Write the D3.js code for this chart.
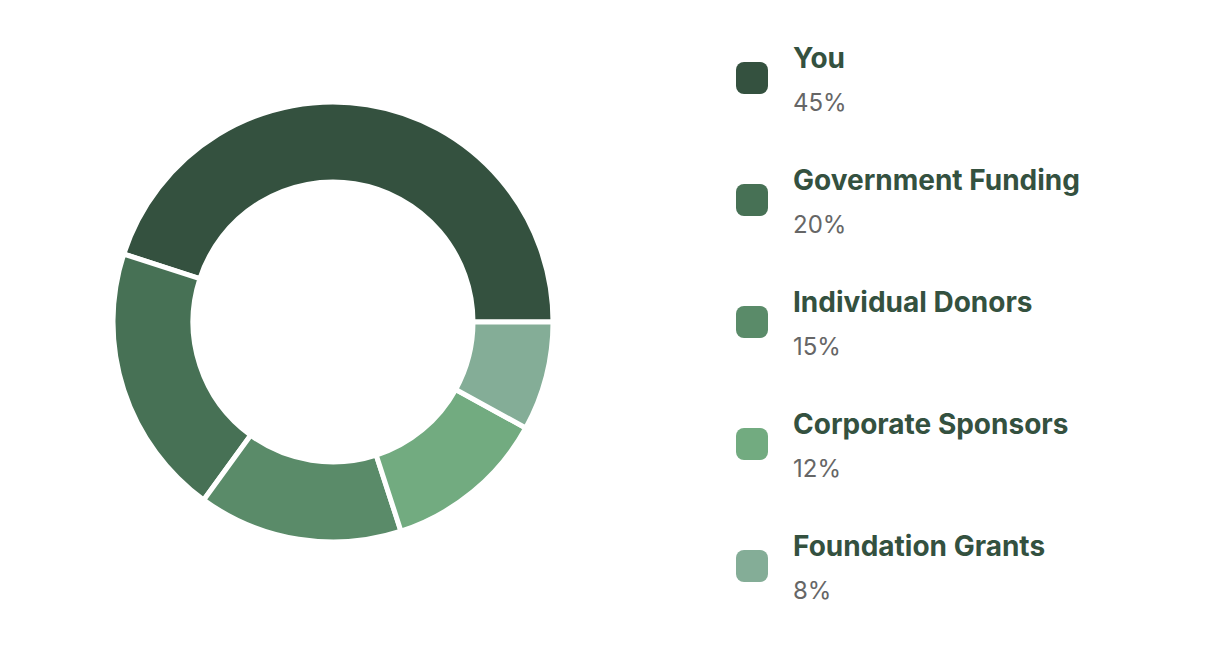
<!DOCTYPE html>
<html><head><meta charset="utf-8">
<script src="https://cdn.jsdelivr.net/npm/d3@7"></script>
<style>body{margin:0;background:#fff;}</style>
</head><body>
<svg id="c" width="1210" height="658"></svg>
<script>
const categories = ["You","Government Funding","Individual Donors","Corporate Sponsors","Foundation Grants"];
const values = [45,20,15,12,8];
const colors = ["#34513f","#477155","#5a8b69","#72ab80","#84ad97"];

const svg = d3.select("#c");
const g = svg.append("g").attr("transform","translate(333,322)");
const data = categories.map((c,i)=>({c,v:values[i],col:colors[i]}));
const pie = d3.pie().sort(null).value(d=>d.v)
  .startAngle(Math.PI/2).endAngle(Math.PI/2 - 2*Math.PI);
const arc = d3.arc().innerRadius(140).outerRadius(220);
g.selectAll("path").data(pie(data)).join("path")
  .attr("d",arc).attr("fill",d=>d.data.col)
  .attr("stroke","#fff").attr("stroke-width",5).attr("stroke-linejoin","miter");

const y = d3.scalePoint().domain(categories).range([78,566]);
const lg = svg.append("g");
const items = lg.selectAll("g").data(data).join("g")
  .attr("transform",d=>`translate(0,${y(d.c)})`);
items.append("rect").attr("x",736).attr("y",-16).attr("width",32).attr("height",32)
  .attr("rx",8).attr("fill",d=>d.col);
items.append("text").attr("x",793).attr("y",-10).text(d=>d.c)
  .attr("font-family","Inter, 'Liberation Sans', sans-serif").attr("font-weight",700)
  .attr("font-size",28).attr("fill","#34513f");
items.append("text").attr("x",793).attr("y",33).text(d=>d.v+"%")
  .attr("font-family","Inter, 'Liberation Sans', sans-serif")
  .attr("font-size",24).attr("fill","#666");
</script>
</body></html>
